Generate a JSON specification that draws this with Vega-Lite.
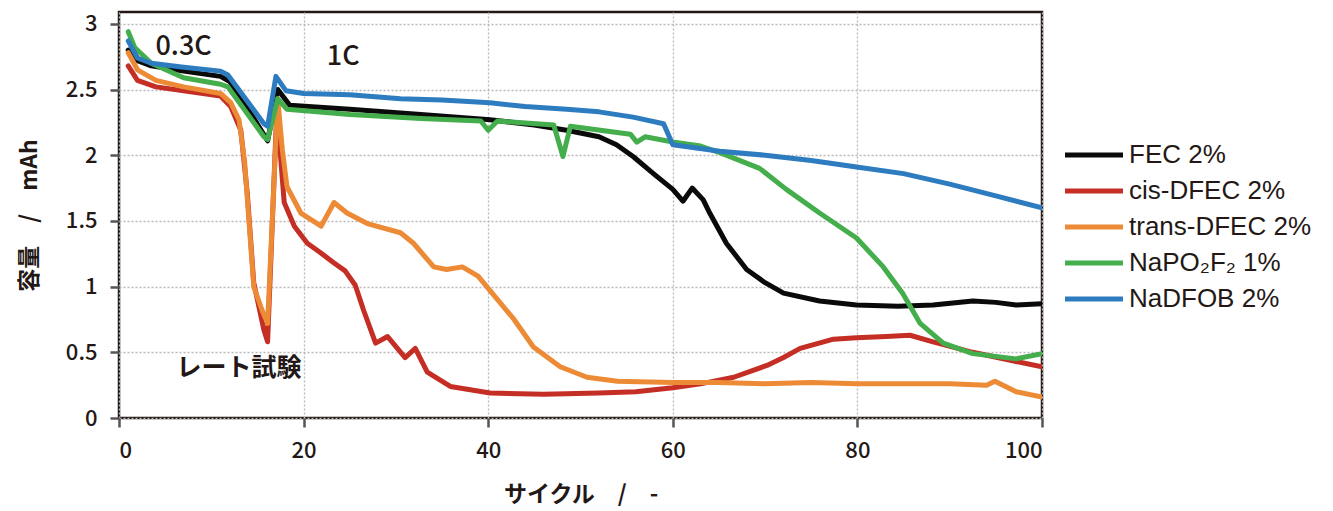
{
  "$schema": "https://vega.github.io/schema/vega-lite/v6.json",
  "autosize": {"type": "none"},
  "width": 923,
  "height": 406,
  "padding": {"left": 119, "top": 12, "right": 291, "bottom": 93},
  "background": "white",
  "config": {
    "view": {"stroke": "#231815", "strokeWidth": 2.5},
    "font": "Noto Sans CJK JP",
    "axis": {
      "labelFont": "Noto Sans CJK JP",
      "titleFont": "Noto Sans CJK JP",
      "labelColor": "#231815",
      "titleColor": "#231815",
      "labelFontSize": 22,
      "labelFontWeight": 500,
      "titleFontSize": 23,
      "titleFontWeight": "bold",
      "tickColor": "#555555",
      "tickWidth": 2.5,
      "tickSize": 9,
      "domain": false,
      "gridColor": "#b8b8b8",
      "gridDash": [2, 2],
      "gridWidth": 1.3
    },
    "legend": {
      "labelFont": "Liberation Sans",
      "labelFontSize": 26,
      "labelColor": "#231815",
      "labelLimit": 400,
      "padding": 0
    }
  },
  "datasets": {
    "curves": [
      {"s": "FEC 2%", "c": 1, "v": 2.80},
      {"s": "FEC 2%", "c": 2, "v": 2.72},
      {"s": "FEC 2%", "c": 3.5, "v": 2.68},
      {"s": "FEC 2%", "c": 7, "v": 2.64},
      {"s": "FEC 2%", "c": 11, "v": 2.60},
      {"s": "FEC 2%", "c": 12, "v": 2.56},
      {"s": "FEC 2%", "c": 14, "v": 2.35},
      {"s": "FEC 2%", "c": 16.1, "v": 2.11},
      {"s": "FEC 2%", "c": 17.2, "v": 2.50},
      {"s": "FEC 2%", "c": 18.5, "v": 2.38},
      {"s": "FEC 2%", "c": 25, "v": 2.35},
      {"s": "FEC 2%", "c": 32.7, "v": 2.31},
      {"s": "FEC 2%", "c": 40.2, "v": 2.27},
      {"s": "FEC 2%", "c": 45, "v": 2.23},
      {"s": "FEC 2%", "c": 48.5, "v": 2.19},
      {"s": "FEC 2%", "c": 52, "v": 2.14},
      {"s": "FEC 2%", "c": 53.9, "v": 2.08},
      {"s": "FEC 2%", "c": 55.7, "v": 1.99},
      {"s": "FEC 2%", "c": 57.9, "v": 1.86},
      {"s": "FEC 2%", "c": 60, "v": 1.74},
      {"s": "FEC 2%", "c": 61.1, "v": 1.65},
      {"s": "FEC 2%", "c": 62.1, "v": 1.75},
      {"s": "FEC 2%", "c": 63.3, "v": 1.66},
      {"s": "FEC 2%", "c": 64, "v": 1.56},
      {"s": "FEC 2%", "c": 65.8, "v": 1.33},
      {"s": "FEC 2%", "c": 68, "v": 1.13},
      {"s": "FEC 2%", "c": 70, "v": 1.03},
      {"s": "FEC 2%", "c": 72, "v": 0.95},
      {"s": "FEC 2%", "c": 75.9, "v": 0.89},
      {"s": "FEC 2%", "c": 79.9, "v": 0.86},
      {"s": "FEC 2%", "c": 84.4, "v": 0.85},
      {"s": "FEC 2%", "c": 88.2, "v": 0.86},
      {"s": "FEC 2%", "c": 92.5, "v": 0.89},
      {"s": "FEC 2%", "c": 95, "v": 0.88},
      {"s": "FEC 2%", "c": 97.2, "v": 0.86},
      {"s": "FEC 2%", "c": 100, "v": 0.87},

      {"s": "cis-DFEC 2%", "c": 1, "v": 2.68},
      {"s": "cis-DFEC 2%", "c": 2, "v": 2.57},
      {"s": "cis-DFEC 2%", "c": 4, "v": 2.52},
      {"s": "cis-DFEC 2%", "c": 7, "v": 2.49},
      {"s": "cis-DFEC 2%", "c": 11, "v": 2.45},
      {"s": "cis-DFEC 2%", "c": 12.1, "v": 2.37},
      {"s": "cis-DFEC 2%", "c": 13.2, "v": 2.19},
      {"s": "cis-DFEC 2%", "c": 13.9, "v": 1.71},
      {"s": "cis-DFEC 2%", "c": 14.6, "v": 1.03},
      {"s": "cis-DFEC 2%", "c": 15.7, "v": 0.67},
      {"s": "cis-DFEC 2%", "c": 16.1, "v": 0.58},
      {"s": "cis-DFEC 2%", "c": 17.1, "v": 2.35},
      {"s": "cis-DFEC 2%", "c": 17.9, "v": 1.64},
      {"s": "cis-DFEC 2%", "c": 19, "v": 1.46},
      {"s": "cis-DFEC 2%", "c": 20.4, "v": 1.33},
      {"s": "cis-DFEC 2%", "c": 21.8, "v": 1.26},
      {"s": "cis-DFEC 2%", "c": 23.3, "v": 1.18},
      {"s": "cis-DFEC 2%", "c": 24.5, "v": 1.12},
      {"s": "cis-DFEC 2%", "c": 25.6, "v": 1.01},
      {"s": "cis-DFEC 2%", "c": 26.5, "v": 0.82},
      {"s": "cis-DFEC 2%", "c": 27.8, "v": 0.57},
      {"s": "cis-DFEC 2%", "c": 29.1, "v": 0.62},
      {"s": "cis-DFEC 2%", "c": 31.0, "v": 0.46},
      {"s": "cis-DFEC 2%", "c": 32.1, "v": 0.53},
      {"s": "cis-DFEC 2%", "c": 33.4, "v": 0.35},
      {"s": "cis-DFEC 2%", "c": 35.9, "v": 0.24},
      {"s": "cis-DFEC 2%", "c": 40.2, "v": 0.19},
      {"s": "cis-DFEC 2%", "c": 46, "v": 0.18},
      {"s": "cis-DFEC 2%", "c": 52, "v": 0.19},
      {"s": "cis-DFEC 2%", "c": 56, "v": 0.20},
      {"s": "cis-DFEC 2%", "c": 60, "v": 0.23},
      {"s": "cis-DFEC 2%", "c": 63, "v": 0.26},
      {"s": "cis-DFEC 2%", "c": 66.6, "v": 0.31},
      {"s": "cis-DFEC 2%", "c": 70.2, "v": 0.40},
      {"s": "cis-DFEC 2%", "c": 72, "v": 0.46},
      {"s": "cis-DFEC 2%", "c": 73.8, "v": 0.53},
      {"s": "cis-DFEC 2%", "c": 77.4, "v": 0.60},
      {"s": "cis-DFEC 2%", "c": 79.9, "v": 0.61},
      {"s": "cis-DFEC 2%", "c": 83.1, "v": 0.62},
      {"s": "cis-DFEC 2%", "c": 85.7, "v": 0.63},
      {"s": "cis-DFEC 2%", "c": 88.2, "v": 0.58},
      {"s": "cis-DFEC 2%", "c": 92.5, "v": 0.50},
      {"s": "cis-DFEC 2%", "c": 97.2, "v": 0.43},
      {"s": "cis-DFEC 2%", "c": 100, "v": 0.39},

      {"s": "trans-DFEC 2%", "c": 1, "v": 2.78},
      {"s": "trans-DFEC 2%", "c": 2, "v": 2.65},
      {"s": "trans-DFEC 2%", "c": 4, "v": 2.57},
      {"s": "trans-DFEC 2%", "c": 7, "v": 2.52},
      {"s": "trans-DFEC 2%", "c": 11, "v": 2.47},
      {"s": "trans-DFEC 2%", "c": 12.1, "v": 2.40},
      {"s": "trans-DFEC 2%", "c": 13, "v": 2.27},
      {"s": "trans-DFEC 2%", "c": 13.6, "v": 1.96},
      {"s": "trans-DFEC 2%", "c": 14.6, "v": 1.00},
      {"s": "trans-DFEC 2%", "c": 15.5, "v": 0.82},
      {"s": "trans-DFEC 2%", "c": 16.1, "v": 0.72},
      {"s": "trans-DFEC 2%", "c": 17.2, "v": 2.43},
      {"s": "trans-DFEC 2%", "c": 17.7, "v": 2.04},
      {"s": "trans-DFEC 2%", "c": 18.2, "v": 1.76},
      {"s": "trans-DFEC 2%", "c": 19.7, "v": 1.56},
      {"s": "trans-DFEC 2%", "c": 21.9, "v": 1.46},
      {"s": "trans-DFEC 2%", "c": 23.3, "v": 1.64},
      {"s": "trans-DFEC 2%", "c": 24.7, "v": 1.56},
      {"s": "trans-DFEC 2%", "c": 26.9, "v": 1.48},
      {"s": "trans-DFEC 2%", "c": 30.5, "v": 1.41},
      {"s": "trans-DFEC 2%", "c": 31.9, "v": 1.33},
      {"s": "trans-DFEC 2%", "c": 34.1, "v": 1.15},
      {"s": "trans-DFEC 2%", "c": 35.5, "v": 1.13},
      {"s": "trans-DFEC 2%", "c": 37.2, "v": 1.15},
      {"s": "trans-DFEC 2%", "c": 38.9, "v": 1.08},
      {"s": "trans-DFEC 2%", "c": 40.2, "v": 0.97},
      {"s": "trans-DFEC 2%", "c": 42.8, "v": 0.75},
      {"s": "trans-DFEC 2%", "c": 44.9, "v": 0.54},
      {"s": "trans-DFEC 2%", "c": 47.8, "v": 0.39},
      {"s": "trans-DFEC 2%", "c": 50.7, "v": 0.31},
      {"s": "trans-DFEC 2%", "c": 54, "v": 0.28},
      {"s": "trans-DFEC 2%", "c": 60, "v": 0.27},
      {"s": "trans-DFEC 2%", "c": 65, "v": 0.27},
      {"s": "trans-DFEC 2%", "c": 70, "v": 0.26},
      {"s": "trans-DFEC 2%", "c": 75, "v": 0.27},
      {"s": "trans-DFEC 2%", "c": 80, "v": 0.26},
      {"s": "trans-DFEC 2%", "c": 85, "v": 0.26},
      {"s": "trans-DFEC 2%", "c": 90, "v": 0.26},
      {"s": "trans-DFEC 2%", "c": 94, "v": 0.25},
      {"s": "trans-DFEC 2%", "c": 94.9, "v": 0.28},
      {"s": "trans-DFEC 2%", "c": 97.2, "v": 0.20},
      {"s": "trans-DFEC 2%", "c": 100, "v": 0.16},

      {"s": "NaPO₂F₂ 1%", "c": 1, "v": 2.94},
      {"s": "NaPO₂F₂ 1%", "c": 1.7, "v": 2.82},
      {"s": "NaPO₂F₂ 1%", "c": 3.5, "v": 2.70},
      {"s": "NaPO₂F₂ 1%", "c": 7, "v": 2.59},
      {"s": "NaPO₂F₂ 1%", "c": 11, "v": 2.54},
      {"s": "NaPO₂F₂ 1%", "c": 11.8, "v": 2.52},
      {"s": "NaPO₂F₂ 1%", "c": 15.7, "v": 2.14},
      {"s": "NaPO₂F₂ 1%", "c": 16.1, "v": 2.12},
      {"s": "NaPO₂F₂ 1%", "c": 17.2, "v": 2.43},
      {"s": "NaPO₂F₂ 1%", "c": 18.2, "v": 2.35},
      {"s": "NaPO₂F₂ 1%", "c": 25, "v": 2.31},
      {"s": "NaPO₂F₂ 1%", "c": 32.7, "v": 2.28},
      {"s": "NaPO₂F₂ 1%", "c": 39.2, "v": 2.26},
      {"s": "NaPO₂F₂ 1%", "c": 40, "v": 2.19},
      {"s": "NaPO₂F₂ 1%", "c": 41, "v": 2.26},
      {"s": "NaPO₂F₂ 1%", "c": 47.1, "v": 2.23},
      {"s": "NaPO₂F₂ 1%", "c": 48.1, "v": 1.99},
      {"s": "NaPO₂F₂ 1%", "c": 48.9, "v": 2.22},
      {"s": "NaPO₂F₂ 1%", "c": 55.4, "v": 2.16},
      {"s": "NaPO₂F₂ 1%", "c": 56.1, "v": 2.10},
      {"s": "NaPO₂F₂ 1%", "c": 57, "v": 2.14},
      {"s": "NaPO₂F₂ 1%", "c": 60, "v": 2.10},
      {"s": "NaPO₂F₂ 1%", "c": 63, "v": 2.07},
      {"s": "NaPO₂F₂ 1%", "c": 65.1, "v": 2.02},
      {"s": "NaPO₂F₂ 1%", "c": 69.4, "v": 1.90},
      {"s": "NaPO₂F₂ 1%", "c": 72.3, "v": 1.74},
      {"s": "NaPO₂F₂ 1%", "c": 75.9, "v": 1.56},
      {"s": "NaPO₂F₂ 1%", "c": 79.9, "v": 1.37},
      {"s": "NaPO₂F₂ 1%", "c": 82.8, "v": 1.15},
      {"s": "NaPO₂F₂ 1%", "c": 84.9, "v": 0.95},
      {"s": "NaPO₂F₂ 1%", "c": 86.8, "v": 0.72},
      {"s": "NaPO₂F₂ 1%", "c": 89.3, "v": 0.57},
      {"s": "NaPO₂F₂ 1%", "c": 92.5, "v": 0.49},
      {"s": "NaPO₂F₂ 1%", "c": 97.2, "v": 0.45},
      {"s": "NaPO₂F₂ 1%", "c": 100, "v": 0.49},

      {"s": "NaDFOB 2%", "c": 1, "v": 2.87},
      {"s": "NaDFOB 2%", "c": 2, "v": 2.74},
      {"s": "NaDFOB 2%", "c": 3.5, "v": 2.70},
      {"s": "NaDFOB 2%", "c": 7, "v": 2.67},
      {"s": "NaDFOB 2%", "c": 11, "v": 2.64},
      {"s": "NaDFOB 2%", "c": 11.8, "v": 2.61},
      {"s": "NaDFOB 2%", "c": 15.7, "v": 2.24},
      {"s": "NaDFOB 2%", "c": 16.1, "v": 2.22},
      {"s": "NaDFOB 2%", "c": 17, "v": 2.60},
      {"s": "NaDFOB 2%", "c": 18.1, "v": 2.49},
      {"s": "NaDFOB 2%", "c": 20, "v": 2.47},
      {"s": "NaDFOB 2%", "c": 25, "v": 2.46},
      {"s": "NaDFOB 2%", "c": 30.5, "v": 2.43},
      {"s": "NaDFOB 2%", "c": 35, "v": 2.42},
      {"s": "NaDFOB 2%", "c": 40.2, "v": 2.40},
      {"s": "NaDFOB 2%", "c": 44, "v": 2.37},
      {"s": "NaDFOB 2%", "c": 48.5, "v": 2.35},
      {"s": "NaDFOB 2%", "c": 52, "v": 2.33},
      {"s": "NaDFOB 2%", "c": 55.7, "v": 2.29},
      {"s": "NaDFOB 2%", "c": 59, "v": 2.24},
      {"s": "NaDFOB 2%", "c": 60, "v": 2.08},
      {"s": "NaDFOB 2%", "c": 65.1, "v": 2.03},
      {"s": "NaDFOB 2%", "c": 70, "v": 2.00},
      {"s": "NaDFOB 2%", "c": 75, "v": 1.96},
      {"s": "NaDFOB 2%", "c": 79.9, "v": 1.91},
      {"s": "NaDFOB 2%", "c": 85, "v": 1.86},
      {"s": "NaDFOB 2%", "c": 90, "v": 1.78},
      {"s": "NaDFOB 2%", "c": 95, "v": 1.69},
      {"s": "NaDFOB 2%", "c": 100, "v": 1.60}
    ],
    "rates": [
      {"c": 7.0, "v": 2.82, "t": "0.3C"},
      {"c": 24.3, "v": 2.75, "t": "1C"}
    ],
    "notes": [
      {"c": 13.0, "v": 0.38, "t": "レート試験"}
    ]
  },
  "layer": [
    {
      "data": {"name": "curves"},
      "mark": {"type": "line", "strokeWidth": 5, "strokeCap": "round", "strokeJoin": "round", "clip": true},
      "encoding": {
        "x": {
          "field": "c", "type": "quantitative",
          "scale": {"domain": [0, 100], "nice": false, "zero": false},
          "axis": {"values": [0, 20, 40, 60, 80, 100], "title": "サイクル　/　-", "labelPadding": 13, "titlePadding": 22, "grid": true}
        },
        "y": {
          "field": "v", "type": "quantitative",
          "scale": {"domain": [0, 3.09], "nice": false},
          "axis": {"values": [0, 0.5, 1, 1.5, 2, 2.5, 3], "format": ".1~f", "title": "容量　/　mAh", "labelPadding": 13, "titlePadding": 24, "grid": true}
        },
        "color": {
          "field": "s", "type": "nominal",
          "scale": {
            "domain": ["FEC 2%", "cis-DFEC 2%", "trans-DFEC 2%", "NaPO₂F₂ 1%", "NaDFOB 2%"],
            "range": ["#0a0a0a", "#c42e25", "#ec8a36", "#44ad4c", "#2e7cc0"]
          },
          "legend": {
            "title": null,
            "orient": "none",
            "legendX": 981,
            "legendY": 130,
            "symbolType": "M-4.8,0H1",
            "symbolSize": 400,
            "symbolStrokeWidth": 5,
            "labelOffset": 3,
            "labelLimit": 400,
            "rowPadding": 10
          }
        },
        "order": {"field": "c", "type": "quantitative"}
      }
    },
    {
      "data": {"name": "rates"},
      "mark": {"type": "text", "fontSize": 27, "fontWeight": 500, "font": "Noto Sans CJK JP", "color": "#231815"},
      "encoding": {
        "x": {"field": "c", "type": "quantitative"},
        "y": {"field": "v", "type": "quantitative"},
        "text": {"field": "t"}
      }
    },
    {
      "data": {"name": "notes"},
      "mark": {"type": "text", "fontSize": 25, "fontWeight": "bold", "font": "Noto Sans CJK JP", "color": "#231815"},
      "encoding": {
        "x": {"field": "c", "type": "quantitative"},
        "y": {"field": "v", "type": "quantitative"},
        "text": {"field": "t"}
      }
    }
  ]
}
